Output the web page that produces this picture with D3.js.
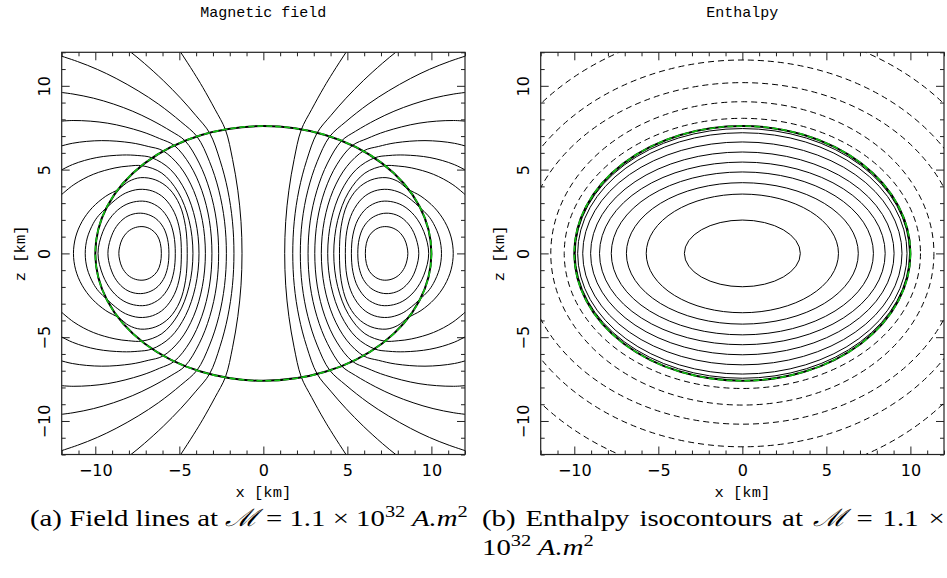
<!DOCTYPE html>
<html>
<head>
<meta charset="utf-8">
<script src="https://cdn.jsdelivr.net/npm/d3@7"></script>
<style>
  body { margin: 0; background: #fff; }
  text { fill: #000; }
</style>
</head>
<body>
<div id="chart"></div>
<script>
// ---- data ----
var majorTicks = [-10, -5, 0, 5, 10];
var minorTicks = d3.range(-12, 13).filter(function (d) { return d % 5 !== 0; });
var panelTitles = ["Magnetic field", "Enthalpy"];

// stellar surface (km): equatorial and polar semi-axes
var surfaceA = 10.0, surfaceB = 7.6;

// field lines, upper-right quadrant only (x >= 0, z >= 0), [x, z] in km;
// the figure is symmetric in x and z so the other quadrants are mirrored.
// a line whose last point has z = 0 closes on itself.
var fieldLines = [
  [[1.27, 0], [1.33, 1.9], [1.52, 3.77], [1.83, 5.6], [2.25, 7.36], [2.88, 8.6], [3.6, 9.9], [4.14, 10.79], [4.92, 12], [5.37, 12.65]],
  [[1.75, 0], [1.84, 1.92], [2.12, 3.79], [2.58, 5.56], [3.2, 7.19], [4.01, 8.22], [4.92, 9.26], [5.95, 10.31], [7.08, 11.34], [7.94, 12.05], [8.65, 12.58]],
  [[2.2, 0], [2.31, 1.92], [2.65, 3.77], [3.2, 5.47], [3.94, 6.96], [4.91, 7.86], [6.23, 8.9], [7.45, 9.7], [8.76, 10.44], [9.88, 10.98], [11.06, 11.45], [12.29, 11.86]],
  [[2.66, 0], [2.79, 1.94], [3.19, 3.77], [3.82, 5.39], [4.66, 6.72], [5.49, 7.29], [6.69, 7.97], [7.77, 8.48], [8.91, 8.91], [10.1, 9.26], [11.33, 9.51], [12.33, 9.64]],
  [[3.06, 0], [3.21, 1.95], [3.66, 3.75], [4.37, 5.29], [5.3, 6.44], [6.17, 6.85], [7.28, 7.28], [9.26, 7.77], [11.32, 7.93], [12.97, 7.79]],
  [[3.45, 0], [3.63, 1.97], [4.15, 3.75], [4.96, 5.18], [5.99, 6.13], [6.85, 6.38], [7.87, 6.6], [9.62, 6.73], [11.37, 6.57], [12.71, 6.2]],
  [[3.83, 0], [4.04, 1.98], [4.63, 3.71], [5.53, 5.01], [6.64, 5.71], [7.47, 5.84], [8.39, 5.87], [9.91, 5.72], [11.36, 5.3], [12.66, 4.61]],
  [[4.19, 0], [4.42, 1.97], [5.07, 3.65], [6.04, 4.79], [7.2, 5.23], [8.03, 5.21], [8.83, 5.1], [10.12, 4.72], [11.28, 4.1], [12.26, 3.28]],
  [[4.53, 0], [4.63, 1.6], [4.98, 2.9], [5.6, 3.85], [6.4, 4.38], [7.3, 4.52], [8.0, 4.3], [8.6, 3.84], [9.38, 3.41], [10.18, 2.73], [10.79, 1.9], [11.17, 0.98], [11.3, 0]],
  [[4.88, 0], [4.97, 1.35], [5.3, 2.45], [5.9, 3.3], [6.6, 3.72], [7.4, 3.82], [8.2, 3.6], [8.8, 3.2], [9.3, 2.75], [9.8, 2.26], [10.12, 1.79], [10.48, 0.92], [10.6, 0]],
  [[5.24, 0], [5.33, 1.1], [5.62, 2.0], [6.15, 2.7], [6.85, 3.07], [7.55, 3.1], [8.3, 2.85], [9.0, 2.25], [9.55, 1.3], [9.84, 0]],
  [[5.62, 0], [5.7, 0.85], [5.95, 1.55], [6.4, 2.08], [7.0, 2.36], [7.6, 2.38], [8.2, 2.15], [8.75, 1.6], [9.1, 0.85], [9.25, 0]],
  [[6.07, 0], [6.13, 0.6], [6.32, 1.08], [6.66, 1.42], [7.1, 1.59], [7.6, 1.55], [8.06, 1.3], [8.4, 0.85], [8.55, 0.4], [8.6, 0]]
];

// enthalpy isocontours: semi-axes along x and z (km)
var solidA = [3.45, 5.72, 6.9, 7.8, 8.5, 9.03, 9.5, 9.8, 9.95];
var solidB = [1.99, 3.54, 4.22, 4.86, 5.45, 6.05, 6.65, 7.2, 7.45];
var dashedA = [10.6, 11.4, 13.0, 14.3, 16.0];
var dashedB = [8.06, 9.05, 10.19, 11.54, 13.5];

// ---- layout ----
var width = 947, height = 578;
var svg = d3.select("#chart").append("svg")
  .attr("width", width)
  .attr("height", height);

var y = d3.scaleLinear().domain([-12, 12]).range([454.5, 52.3]);
var xs = [
  d3.scaleLinear().domain([-12, 12]).range([61.7, 465]),
  d3.scaleLinear().domain([-12, 12]).range([540.7, 944])
];

var line = d3.line()
  .x(function (d) { return d.px; })
  .y(function (d) { return d.py; });

function drawPanel(i) {
  var x = xs[i];
  var g = svg.append("g");

  g.append("clipPath").attr("id", "clip" + i)
    .append("rect")
    .attr("x", x(-12)).attr("y", y(12))
    .attr("width", x(12) - x(-12)).attr("height", y(-12) - y(12));

  // major and minor ticks inside the frame on all four sides
  var axes = [
    [d3.axisBottom(x), "translate(0," + y(-12) + ")", "bottom"],
    [d3.axisTop(x), "translate(0," + y(12) + ")", ""],
    [d3.axisLeft(y), "translate(" + x(-12) + ",0)", "left"],
    [d3.axisRight(y), "translate(" + x(12) + ",0)", ""]
  ];
  axes.forEach(function (a) {
    var maj = a[0].tickValues(majorTicks).tickSize(-8).tickSizeOuter(0)
      .tickPadding(10).tickFormat(a[2] ? d3.format("d") : "");
    var ga = g.append("g").attr("class", "axis-" + a[2]).attr("transform", a[1]).call(maj);
    ga.select(".domain").remove();
    ga.selectAll("line").attr("stroke", "#222");
    var gm = g.append("g").attr("transform", a[1])
      .call(a[0].tickValues(minorTicks).tickSize(-4).tickFormat(""));
    gm.select(".domain").remove();
    gm.selectAll("line").attr("stroke", "#222");
  });
  g.selectAll(".tick text")
    .attr("font-family", "DejaVu Sans")
    .attr("font-size", 16);
  // y tick labels are written along the axis
  g.select(".axis-left").selectAll(".tick text")
    .attr("x", null).attr("dy", null)
    .attr("text-anchor", "middle")
    .attr("transform", "translate(-12,0) rotate(-90)");

  return g;
}

var gL = drawPanel(0);
var gR = drawPanel(1);

// ---- magnetic field lines ----
var x0 = xs[0];
var plotL = gL.append("g").attr("clip-path", "url(#clip0)");
fieldLines.forEach(function (q) {
  var closed = q[q.length - 1][1] === 0;
  [1, -1].forEach(function (sx) {
    var upper = q.map(function (p) { return [sx * p[0], p[1]]; });
    var lower = q.slice(1).reverse().map(function (p) { return [sx * p[0], -p[1]]; });
    var pts = lower.concat(upper);
    if (closed) pts = pts.slice(1);
    var data = pts.map(function (p) { return {px: x0(p[0]), py: y(p[1])}; });
    plotL.append("path")
      .attr("d", line.curve(closed ? d3.curveCatmullRomClosed : d3.curveCatmullRom)(data))
      .attr("fill", "none")
      .attr("stroke", "#000")
      .attr("stroke-width", 1);
  });
});

// ---- enthalpy isocontours ----
var x1 = xs[1];
var plotR = gR.append("g").attr("clip-path", "url(#clip1)");
plotR.selectAll("ellipse.solid")
  .data(d3.zip(solidA, solidB))
  .enter().append("ellipse")
  .attr("cx", x1(0)).attr("cy", y(0))
  .attr("rx", function (d) { return x1(d[0]) - x1(0); })
  .attr("ry", function (d) { return y(0) - y(d[1]); })
  .attr("fill", "none").attr("stroke", "#000").attr("stroke-width", 1);
plotR.selectAll("ellipse.dashed")
  .data(d3.zip(dashedA, dashedB))
  .enter().append("ellipse")
  .attr("cx", x1(0)).attr("cy", y(0))
  .attr("rx", function (d) { return x1(d[0]) - x1(0); })
  .attr("ry", function (d) { return y(0) - y(d[1]); })
  .attr("fill", "none").attr("stroke", "#000").attr("stroke-width", 1)
  .attr("stroke-dasharray", "6,4");

// stellar surface: black line with green dashes, both panels
[[plotL, x0], [plotR, x1]].forEach(function (p) {
  var x = p[1];
  p[0].append("ellipse")
    .attr("cx", x(0)).attr("cy", y(0))
    .attr("rx", x(surfaceA) - x(0)).attr("ry", y(0) - y(surfaceB))
    .attr("fill", "none").attr("stroke", "#000").attr("stroke-width", 2);
  p[0].append("ellipse")
    .attr("cx", x(0)).attr("cy", y(0))
    .attr("rx", x(surfaceA) - x(0)).attr("ry", y(0) - y(surfaceB))
    .attr("fill", "none").attr("stroke", "#12c012").attr("stroke-width", 1.6)
    .attr("stroke-dasharray", "6,3");
});

// frames
xs.forEach(function (x) {
  svg.append("rect")
    .attr("x", x(-12)).attr("y", y(12))
    .attr("width", x(12) - x(-12)).attr("height", y(-12) - y(12))
    .attr("fill", "none").attr("stroke", "#222").attr("stroke-width", 1.2);
});

// titles and axis labels
xs.forEach(function (x, i) {
  svg.append("text")
    .attr("x", x(0)).attr("y", 17)
    .attr("text-anchor", "middle")
    .attr("font-family", "Liberation Mono")
    .attr("font-size", 15)
    .text(panelTitles[i]);
  svg.append("text")
    .attr("x", x(0)).attr("y", 497)
    .attr("text-anchor", "middle")
    .attr("font-family", "Liberation Mono")
    .attr("font-size", 15.5)
    .text("x [km]");
  svg.append("text")
    .attr("transform", "translate(" + (x(-12) - 37) + "," + y(0) + ") rotate(-90)")
    .attr("text-anchor", "middle")
    .attr("font-family", "Liberation Mono")
    .attr("font-size", 15.5)
    .text("z [km]");
});

// ---- captions (LaTeX-like, stretched to the widths of the reference) ----
function caption(parts) {
  var el = svg.append("text")
    .attr("font-family", "Liberation Serif")
    .attr("font-size", 24);
  parts.forEach(function (p) {
    var ts = el.append("tspan").text(p.t);
    if (p.it) ts.attr("font-style", "italic");
    if (p.sup) ts.attr("dy", -9).attr("font-size", 17);
    if (p.down) ts.attr("dy", 9);
    if (p.script) ts.attr("font-family", "DejaVu Serif").attr("font-style", "italic");
  });
  return el;
}
var capA = caption([
  {t: "(a) Field lines at "}, {t: "\u2133", script: true}, {t: " = 1.1 \u00d7 10"},
  {t: "32", sup: true}, {t: " A.m", it: true, down: true}, {t: "2", sup: true}
]);
var sx = 438 / capA.node().getComputedTextLength();
capA.attr("transform", "translate(30,526) scale(" + sx + ",1)");

var capB = caption([
  {t: "(b) Enthalpy isocontours at "}, {t: "\u2133", script: true}, {t: " = 1.1 \u00d7"}
]);
var natural = capB.node().getComputedTextLength();
capB.attr("word-spacing", (463 / sx - natural) / 7)
  .attr("transform", "translate(482,526) scale(" + sx + ",1)");

caption([
  {t: "10"}, {t: "32", sup: true}, {t: " A.m", it: true, down: true}, {t: "2", sup: true}
]).attr("transform", "translate(482,555) scale(" + sx + ",1)");
</script>
</body>
</html>
